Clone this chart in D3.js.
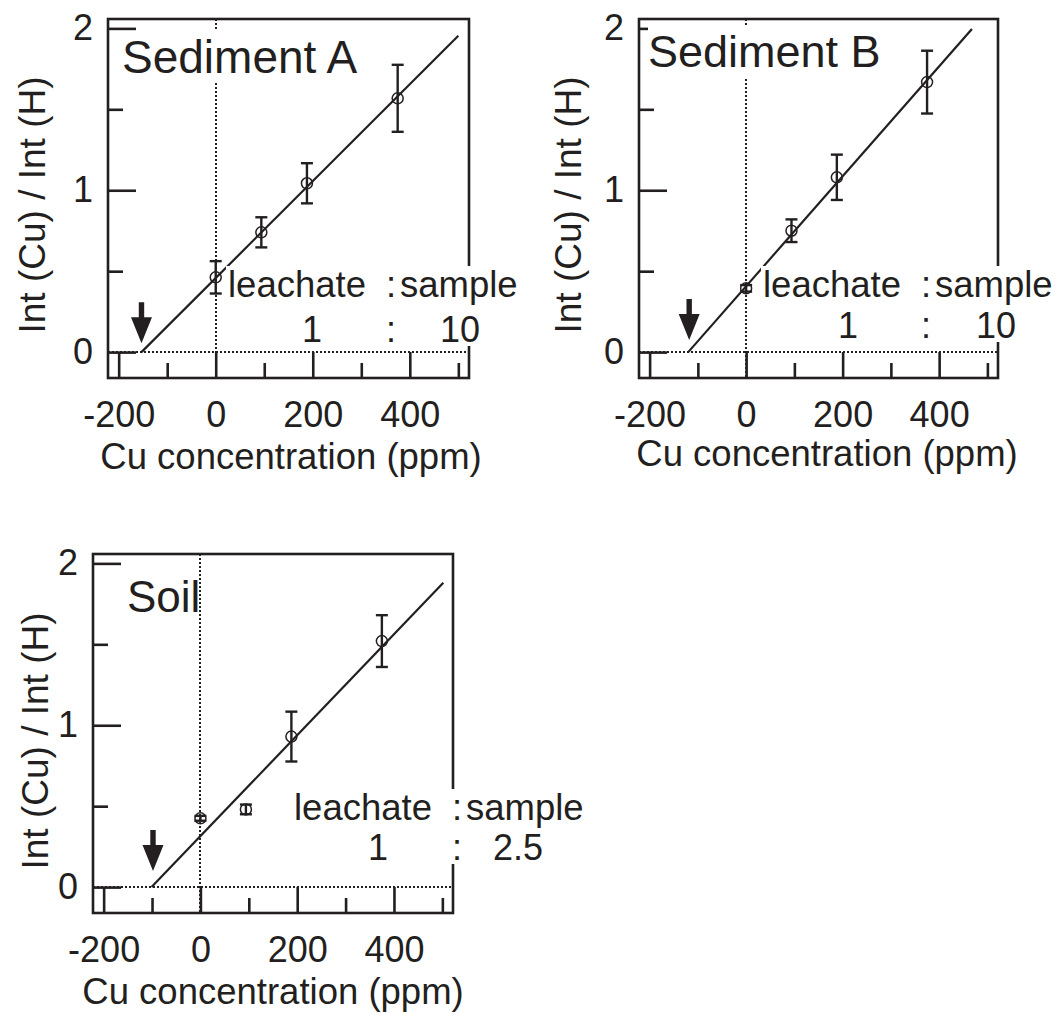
<!DOCTYPE html>
<html>
<head>
<meta charset="utf-8">
<script src="https://cdn.jsdelivr.net/npm/d3@7"></script>
<style>
  html, body { margin: 0; padding: 0; background: #fff; }
  svg { display: block; font-family: "Liberation Sans", Arial, Helvetica, sans-serif; }
</style>
</head>
<body>
<svg id="chart" width="1056" height="1014"></svg>
<script>
// ---------- data ----------
const panelNames = ["Sediment A", "Sediment B", "Soil"];
const concentrations = [0, 94, 188, 375];          // Cu added (ppm)
const ratioSedA = [0.462, 0.74, 1.043, 1.568];
const errSedA   = [0.10, 0.093, 0.124, 0.207];
const ratioSedB = [0.394, 0.75, 1.08, 1.668];
const errSedB   = [0.02, 0.07, 0.14, 0.194];
const ratioSoil = [0.425, 0.48, 0.93, 1.52];
const errSoil   = [0.015, 0.03, 0.154, 0.16];
const fitStartX = [-153, -120, -101];
const fitEndX   = [500, 468, 502];
const fitStartY = [0, 0, 0];
const fitEndY   = [1.954, 1.996, 1.88];
const arrowX    = [-153, -118, -98];
const arrowTipY = [0.055, 0.075, 0.1];
const ratioHeadLeft = "leachate";
const ratioHeadRight = "sample";
const ratioLeft = ["1", "1", "1"];
const ratioRight = ["10", "10", "2.5"];
const xMajorTicks = [-200, 0, 200, 400];
const xMinorTicks = [-100, 100, 300, 500];
const yMajorTicks = [0, 1, 2];
const yMinorTicks = [0.5, 1.5];
const xTitle = "Cu concentration (ppm)";
const yTitle = "Int (Cu) / Int (H)";
const xDomain = [-222, 522];
const yDomain = [-0.16, 2.058];

// ---------- layout ----------
const ink = "#231f20";
const layout = [
  { left: 108, top: 19,  w: 361, h: 359, ylabX: 45,  ylabY: 205, xTitleX: 291, xTitleY: 469,
    hdrY: 297, rowY: 342, oneX: 312, colonX: 391, rightX: 440,
    titleX: 122, titleY: 73, titleSize: 46, titleBg: true },
  { left: 639, top: 19,  w: 359, h: 359, ylabX: 581, ylabY: 205, xTitleX: 827, xTitleY: 466,
    hdrY: 297, rowY: 338, oneX: 848, colonX: 926, rightX: 976,
    titleX: 648, titleY: 67, titleSize: 45, titleBg: true },
  { left: 93,  top: 554, w: 360, h: 359, ylabX: 48,  ylabY: 741, xTitleX: 273, xTitleY: 1004,
    hdrY: 820, rowY: 860, oneX: 378, colonX: 457, rightX: 493,
    titleX: 127, titleY: 612, titleSize: 44, titleBg: false }
];
const seriesY = [ratioSedA, ratioSedB, ratioSoil];
const seriesE = [errSedA, errSedB, errSoil];

const svg = d3.select("#chart");
const fmt = d => String(d);

layout.forEach((L, i) => {
  const x = d3.scaleLinear().domain(xDomain).range([0, L.w]);
  const y = d3.scaleLinear().domain(yDomain).range([L.h, 0]);
  const g = svg.append("g").attr("transform", `translate(${L.left},${L.top})`);

  // dotted reference lines
  const x0 = Math.round(x(0)), y0 = Math.round(y(0));
  g.append("line").attr("x1", x0).attr("x2", x0).attr("y1", 0).attr("y2", L.h)
    .attr("stroke", ink).attr("stroke-width", 2).attr("stroke-dasharray", "2,2");
  g.append("line").attr("x1", 0).attr("x2", L.w).attr("y1", y0).attr("y2", y0)
    .attr("stroke", ink).attr("stroke-width", 2).attr("stroke-dasharray", "2,2");

  // frame
  g.append("rect").attr("x", 0).attr("y", 0).attr("width", L.w).attr("height", L.h)
    .attr("fill", "none").attr("stroke", ink).attr("stroke-width", 2.6);

  // axes
  const styleAxis = sel => {
    sel.select(".domain").remove();
    sel.selectAll(".tick line").attr("stroke", ink).attr("stroke-width", 2.6);
    sel.selectAll(".tick text").attr("fill", ink).style("font-size", "36px");
  };
  g.append("g").call(d3.axisLeft(y).tickValues(yMajorTicks).tickSize(-28).tickPadding(15)
      .tickFormat(fmt)).call(styleAxis);
  g.append("g").call(d3.axisLeft(y).tickValues(yMinorTicks).tickSize(-15).tickFormat(""))
      .call(styleAxis);
  g.append("g").attr("transform", `translate(0,${L.h})`)
    .call(d3.axisBottom(x).tickValues(xMajorTicks).tickSize(-26).tickPadding(23)
      .tickFormat(fmt)).call(styleAxis);
  g.append("g").attr("transform", `translate(0,${L.h})`)
    .call(d3.axisBottom(x).tickValues(xMinorTicks).tickSize(-15).tickFormat(""))
    .call(styleAxis);

  // fit line
  g.append("line")
    .attr("x1", x(fitStartX[i])).attr("y1", y(fitStartY[i]))
    .attr("x2", x(fitEndX[i])).attr("y2", y(fitEndY[i]))
    .attr("stroke", ink).attr("stroke-width", 2.2);

  // data points with error bars
  const pts = concentrations.map((c, k) => ({ c, v: seriesY[i][k], e: seriesE[i][k] }));
  const pg = g.selectAll(".pt").data(pts).enter().append("g");
  pg.append("line").attr("x1", d => x(d.c)).attr("x2", d => x(d.c))
    .attr("y1", d => y(d.v - d.e)).attr("y2", d => y(d.v + d.e))
    .attr("stroke", ink).attr("stroke-width", 2.4);
  [-1, 1].forEach(s => {
    pg.append("line").attr("x1", d => x(d.c) - 6).attr("x2", d => x(d.c) + 6)
      .attr("y1", d => y(d.v + s * d.e)).attr("y2", d => y(d.v + s * d.e))
      .attr("stroke", ink).attr("stroke-width", 2.4);
  });
  pg.append("circle").attr("cx", d => x(d.c)).attr("cy", d => y(d.v)).attr("r", 5.5)
    .attr("fill", "none").attr("stroke", ink).attr("stroke-width", 1.5);

  // arrow marking the x-intercept
  const tx = x(arrowX[i]), ty = y(arrowTipY[i]);
  g.append("path")
    .attr("d", `M${tx-2.7},${ty-41} L${tx+2.7},${ty-41} L${tx+2.7},${ty-26} L${tx+10.5},${ty-26}
               L${tx},${ty} L${tx-10.5},${ty-26} L${tx-2.7},${ty-26} Z`)
    .attr("fill", ink);

  // panel title with white background
  const tg = svg.append("g");
  const tbg = tg.append("rect").attr("fill", "#fff");
  const tt = tg.append("text").attr("x", L.titleX).attr("y", L.titleY)
    .attr("fill", ink).style("font-size", L.titleSize + "px").text(panelNames[i]);
  if (L.titleBg) {
    const tb = tt.node().getBBox();
    tbg.attr("x", tb.x).attr("y", tb.y).attr("width", tb.width).attr("height", tb.height);
  }

  // leachate : sample block with white background
  const lg = svg.append("g");
  const lbg = lg.append("rect").attr("fill", "#fff");
  const addT = (tx_, ty_, anchor, size, s) =>
    lg.append("text").attr("x", tx_).attr("y", ty_).attr("fill", ink)
      .attr("text-anchor", anchor).style("font-size", size + "px").text(s);
  addT(L.colonX - 25, L.hdrY, "end", 36.5, ratioHeadLeft);
  addT(L.colonX, L.hdrY, "middle", 36.5, ":");
  addT(L.colonX + 9, L.hdrY, "start", 36.5, ratioHeadRight);
  addT(L.oneX, L.rowY, "middle", 36, ratioLeft[i]);
  addT(L.colonX, L.rowY, "middle", 36, ":");
  addT(L.rightX, L.rowY, "start", 36, ratioRight[i]);
  const lb = lg.node().getBBox();
  lbg.attr("x", lb.x - 2).attr("y", lb.y + 2).attr("width", lb.width + 4).attr("height", lb.height - 6);

  // axis titles
  svg.append("text").attr("x", L.xTitleX).attr("y", L.xTitleY).attr("text-anchor", "middle")
    .attr("fill", ink).style("font-size", "36.5px").text(xTitle);
  svg.append("text")
    .attr("transform", `translate(${L.ylabX},${L.ylabY}) rotate(-90)`)
    .attr("text-anchor", "middle").attr("fill", ink).style("font-size", "37px").text(yTitle);
});
</script>
</body>
</html>
